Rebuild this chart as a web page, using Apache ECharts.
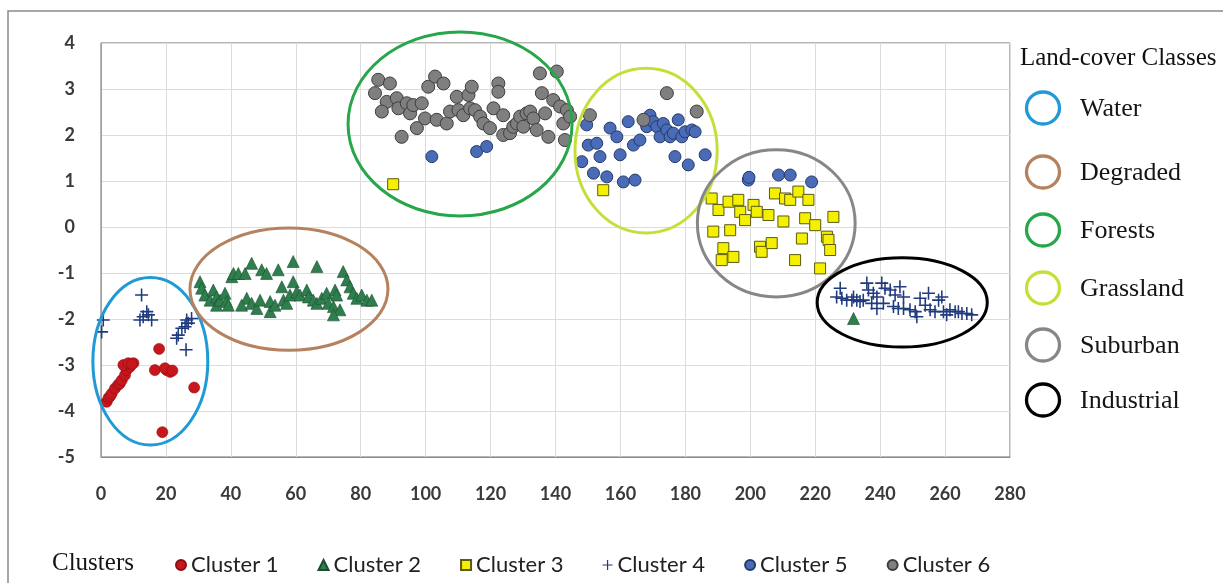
<!DOCTYPE html>
<html>
<head>
<meta charset="utf-8">
<script src="https://cdn.jsdelivr.net/npm/echarts@6/dist/echarts.min.js"></script>
<style>
html,body{margin:0;padding:0;background:#fff;}
#c{width:1223px;height:583px;}
</style>
</head>
<body>
<div id="c"></div>
<script>
// ---------- DATA ----------
const xTicks = { min: 0, max: 280, step: 20 };
const yTicks = { min: -5, max: 4, step: 1 };

const cluster1 = [[1.75,-3.80],[2.3,-3.72],[2.8,-3.68],[3.3,-3.62],[4.3,-3.51],[5.3,-3.43],[5.8,-3.40],[6.4,-3.33],[7.4,-3.22],[7.9,-3.11],[8.9,-3.04],[10,-2.96],[6.9,-3.0],[8.4,-2.96],[9.5,-2.98],[17.9,-2.65],[16.6,-3.11],[20.2,-3.11],[21.3,-3.15],[19.7,-3.07],[22,-3.12],[28.7,-3.49],[18.9,-4.46]];

const cluster2 = [[30.5,-1.19],[31.0,-1.33],[32.0,-1.48],[33.6,-1.59],[34.6,-1.37],[35.6,-1.52],[35.6,-1.70],[36.7,-1.59],[38.2,-1.44],[38.7,-1.62],[39.2,-1.70],[40.3,-1.08],[40.8,-1.01],[42.3,-1.01],[44.4,-1.01],[46.4,-0.79],[49.5,-0.93],[51.0,-1.01],[54.6,-0.93],[59.2,-0.75],[66.5,-0.86],[59.2,-1.19],[55.7,-1.30],[44.9,-1.55],[43.3,-1.70],[46.4,-1.66],[48.0,-1.77],[49.0,-1.59],[52.1,-1.62],[52.1,-1.84],[53.6,-1.70],[56.2,-1.59],[57.2,-1.66],[58.2,-1.48],[60.3,-1.41],[61.3,-1.48],[63.4,-1.37],[63.9,-1.52],[65.4,-1.59],[66.5,-1.66],[68.0,-1.55],[69.5,-1.44],[70.0,-1.66],[71.6,-1.73],[72.1,-1.37],[72.6,-1.48],[73.6,-1.80],[71.6,-1.91],[74.6,-0.97],[75.7,-1.15],[76.7,-1.30],[77.7,-1.44],[78.8,-1.55],[80.3,-1.48],[81.9,-1.59],[83.4,-1.59],[231.8,-1.99]];

const cluster3 = [[90.0,0.93],[154.7,0.80],[188.1,0.62],[190.2,0.37],[193.3,0.55],[196.3,0.59],[196.9,0.33],[198.4,0.15],[201.0,0.48],[202.0,0.33],[205.6,0.26],[207.6,0.73],[210.7,0.62],[212.3,0.59],[214.8,0.77],[217.9,0.59],[210.2,0.12],[216.9,0.19],[220.0,0.04],[225.6,0.22],[188.6,-0.10],[193.8,-0.07],[191.7,-0.46],[194.8,-0.65],[191.2,-0.72],[203.0,-0.43],[203.5,-0.54],[206.6,-0.35],[215.9,-0.25],[213.8,-0.72],[223.6,-0.21],[224.1,-0.28],[224.6,-0.50],[221.5,-0.90]];

const cluster4 = [[12.5,-1.48],[13,-1.95],[14.6,-1.91],[12,-2.02],[15.6,-2.02],[14.1,-1.84],[0.7,-2.02],[0.2,-2.28],[26.4,-2.02],[26.9,-2.09],[25.9,-2.17],[24.9,-2.20],[23.8,-2.35],[23.3,-2.42],[26.2,-2.67],[27.9,-1.99],
[226.6,-1.52],[227.7,-1.33],[228.2,-1.55],[229.7,-1.59],[231.3,-1.59],[231.8,-1.52],[232.8,-1.59],[233.8,-1.62],[234.8,-1.59],[235.9,-1.22],[236.4,-1.37],[237.9,-1.44],[239.0,-1.52],[240.5,-1.22],[241.5,-1.33],[243.1,-1.37],[244.6,-1.48],[246.1,-1.30],[247.2,-1.52],[237.4,-1.66],[239.0,-1.77],[241.0,-1.66],[244.1,-1.73],[245.6,-1.77],[247.2,-1.77],[249.2,-1.80],[250.8,-1.84],[251.3,-1.95],[252.3,-1.55],[253.9,-1.70],[254.9,-1.44],[255.4,-1.80],[256.9,-1.84],[258.0,-1.59],[259.0,-1.52],[259.5,-1.84],[260.5,-1.91],[261.5,-1.80],[263.1,-1.84],[264.1,-1.84],[265.2,-1.88],[266.7,-1.88],[268.2,-1.91]];

const cluster5 = [[101.9,1.53],[115.7,1.64],[118.8,1.75],[149.6,2.22],[150.1,1.78],[152.7,1.82],[153.7,1.53],[148.1,1.42],[151.7,1.17],[155.8,1.09],[156.8,2.15],[158.9,1.96],[159.9,1.57],[160.9,0.98],[164.5,1.02],[162.4,2.29],[164.0,1.78],[166.0,1.89],[168.1,2.18],[169.1,2.43],[170.1,2.29],[171.2,2.18],[172.2,1.96],[173.2,2.25],[174.3,2.11],[175.3,1.96],[176.3,2.04],[177.8,2.33],[178.9,1.96],[179.9,2.07],[182.0,2.11],[183.0,2.07],[176.8,1.53],[180.9,1.35],[186.1,1.57],[199.4,1.02],[199.6,1.08],[208.7,1.13],[212.3,1.13],[218.9,0.98]];

const cluster6 = [[85.4,3.20],[89.0,3.12],[84.4,2.91],[88.0,2.72],[86.5,2.51],[91.1,2.80],[91.6,2.58],[94.2,2.69],[95.2,2.47],[96.2,2.65],[98.8,2.69],[92.6,1.96],[97.3,2.15],[99.8,2.36],[100.8,3.05],[102.9,3.27],[105.5,3.12],[103.4,2.33],[106.5,2.25],[107.5,2.51],[109.6,2.83],[110.1,2.54],[111.6,2.43],[113.2,2.87],[114.2,3.05],[113.7,2.58],[115.2,2.54],[116.8,2.40],[117.8,2.25],[119.8,2.15],[120.9,2.58],[122.4,3.12],[122.4,2.94],[123.9,2.43],[123.9,2.00],[126.0,2.04],[127.0,2.18],[128.1,2.25],[129.1,2.40],[130.1,2.18],[131.1,2.47],[132.2,2.51],[133.2,2.36],[134.2,2.11],[135.2,3.34],[135.8,2.91],[136.8,2.47],[137.8,1.96],[139.3,2.76],[140.4,3.38],[141.4,2.62],[142.4,2.25],[143.5,2.54],[144.5,2.40],[142.9,1.89],[150.6,2.43],[167.1,2.33],[174.3,2.91],[183.5,2.51]];

const clusterNames = ['Cluster 1','Cluster 2','Cluster 3','Cluster 4','Cluster 5','Cluster 6'];

// Land-cover class ellipses (data units): centre x, centre y, radius x, radius y
const classNames = ['Water','Degraded','Forests','Grassland','Suburban','Industrial'];
const classCx = [15.2, 57.9, 110.6, 167.9, 208.0, 246.8];
const classCy = [-2.92, -1.35, 2.24, 1.66, 0.08, -1.64];
const classRx = [17.7, 30.5, 34.5, 21.9, 24.3, 26.2];
const classRy = [1.82, 1.33, 2.0, 1.79, 1.60, 0.97];
const classColors = ['#1f9ad6','#b5825f','#27a64a','#c5df3a','#878787','#000000'];

// ---------- CHART ----------
const chart = echarts.init(document.getElementById('c'));
const plusPath = 'path://M0,4.4H10V5.6H0ZM4.4,0H5.6V10H4.4Z';
const tickFont = { fontFamily: 'Lato', fontSize: 18, fontWeight: 'bold', color: '#3a3a3a' };

const seriesDefs = [
  { data: cluster1, symbol: 'circle', size: 11, style: { color: '#c8161d', borderColor: '#8a0f12', borderWidth: 0.6 } },
  { data: cluster2, symbol: 'triangle', size: 12, style: { color: '#2f7e4e', borderColor: '#1b4d2e', borderWidth: 0.6 } },
  { data: cluster3, symbol: 'rect', size: 11, style: { color: '#f4f000', borderColor: '#5a5a10', borderWidth: 1 } },
  { data: cluster4, symbol: plusPath, size: 13, style: { color: '#1f3a7e' } },
  { data: cluster5, symbol: 'circle', size: 12, style: { color: '#4a6cb8', borderColor: '#263a66', borderWidth: 1 } },
  { data: cluster6, symbol: 'circle', size: 13, style: { color: '#7f7f7f', borderColor: '#3d3d3d', borderWidth: 1 } }
];

const option = {
  backgroundColor: '#ffffff',
  animation: false,
  grid: { left: 101, right: 213, top: 43, bottom: 126, show: true, borderColor: '#6e6e6e', borderWidth: 1, backgroundColor: '#fff' },
  xAxis: {
    type: 'value', min: xTicks.min, max: xTicks.max, interval: xTicks.step,
    axisLine: { show: true, onZero: false, lineStyle: { color: '#8c8c8c' } },
    axisTick: { show: false },
    splitLine: { show: true, lineStyle: { color: '#dcdcdc', width: 1 } },
    axisLabel: Object.assign({ margin: 28 }, tickFont)
  },
  yAxis: {
    type: 'value', min: yTicks.min, max: yTicks.max, interval: yTicks.step,
    axisLine: { show: true, onZero: false, lineStyle: { color: '#a0a0a0' } },
    axisTick: { show: false },
    splitLine: { show: true, lineStyle: { color: '#dcdcdc', width: 1 } },
    axisLabel: Object.assign({ margin: 26 }, tickFont)
  },
  legend: {
    orient: 'horizontal', left: 170, top: 549, itemGap: 39, itemWidth: 10, itemHeight: 10,
    textStyle: { fontFamily: 'Lato', fontSize: 22, color: '#222', padding: [0, 0, 0, 0] },
    data: clusterNames
  },
  series: seriesDefs.map((s, i) => ({
    name: clusterNames[i], type: 'scatter', data: s.data, symbol: s.symbol, symbolSize: s.size,
    itemStyle: Object.assign({ opacity: 1 }, s.style), z: 2 + i
  }))
};
chart.setOption(option);

function overlays() {
  const g = [];
  // outer frame
  g.push({ type: 'rect', shape: { x: 8, y: 11, width: 1240, height: 600 }, style: { fill: 'transparent', stroke: '#8a8a8a', lineWidth: 1.5 }, z: 200, silent: true });
  // ellipses
  for (let i = 0; i < classNames.length; i++) {
    const c = chart.convertToPixel({ gridIndex: 0 }, [classCx[i], classCy[i]]);
    const p = chart.convertToPixel({ gridIndex: 0 }, [classCx[i] + classRx[i], classCy[i] + classRy[i]]);
    g.push({ type: 'ellipse', shape: { cx: c[0], cy: c[1], rx: p[0] - c[0], ry: c[1] - p[1] }, style: { fill: 'transparent', stroke: classColors[i], lineWidth: 3 }, z: 100, silent: true });
  }
  // Land-cover legend
  g.push({ type: 'text', left: 1020, top: 46, style: { text: 'Land-cover Classes', font: '25px "Liberation Serif"', fill: '#111' }, z: 110 });
  const legY = [108, 172, 230, 288, 345, 400];
  for (let i = 0; i < classNames.length; i++) {
    g.push({ type: 'ellipse', shape: { cx: 1043, cy: legY[i], rx: 16.5, ry: 16 }, style: { fill: 'transparent', stroke: classColors[i], lineWidth: 3.3 }, z: 110 });
    g.push({ type: 'text', x: 1080, y: legY[i] + 1, style: { text: classNames[i], font: '26px "Liberation Serif"', fill: '#151515', textVerticalAlign: 'middle' }, z: 110 });
  }
  // Clusters title
  g.push({ type: 'text', x: 52, y: 563, style: { text: 'Clusters', font: '25px "Liberation Serif"', fill: '#151515', textVerticalAlign: 'middle' }, z: 110 });
  chart.setOption({ graphic: g });
}
overlays();
</script>
</body>
</html>
